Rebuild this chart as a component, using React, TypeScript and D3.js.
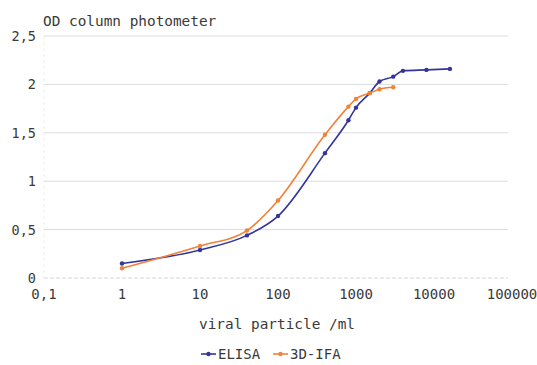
import React from "react";
import * as d3 from "d3";

const elisaX = [1, 10, 40, 100, 400, 800, 1000, 1500, 2000, 3000, 4000, 8000, 16000];
const elisaY = [0.15, 0.29, 0.44, 0.64, 1.29, 1.63, 1.76, 1.91, 2.03, 2.08, 2.14, 2.15, 2.16];
const ifaX = [1, 10, 40, 100, 400, 800, 1000, 1500, 2000, 3000];
const ifaY = [0.1, 0.33, 0.49, 0.8, 1.48, 1.77, 1.85, 1.91, 1.95, 1.97];
const xTicks = [0.1, 1, 10, 100, 1000, 10000, 100000];
const xTickLabels = ["0,1", "1", "10", "100", "1000", "10000", "100000"];
const yTicks = [0, 0.5, 1, 1.5, 2, 2.5];
const yTickLabels = ["0", "0,5", "1", "1,5", "2", "2,5"];
const seriesNames = ["ELISA", "3D-IFA"];
const colors = ["#34359a", "#f0823a"];

export default function App() {
  const W = 537, H = 365;
  const x = d3.scaleLog().domain([0.1, 100000]).range([44, 512]);
  const y = d3.scaleLinear().domain([0, 2.5]).range([278, 36]);
  const font = "'DejaVu Sans Mono', monospace";
  const line = d3.line<[number, number]>().x(d => x(d[0])).y(d => y(d[1])).curve(d3.curveMonotoneX);
  const series = [
    elisaX.map((v, i) => [v, elisaY[i]] as [number, number]),
    ifaX.map((v, i) => [v, ifaY[i]] as [number, number]),
  ];
  const txt = "#3a3a3a";
  return (
    <svg width={W} height={H} style={{ position: "absolute", left: 0, top: 0, background: "#fff" }}>
      <rect width={W} height={H} fill="#fff" />
      {yTicks.map((t, i) => (
        <g key={"y" + i}>
          <line x1={44} x2={508} y1={y(t)} y2={y(t)} stroke={t === 0 ? "#cfd4e0" : "#dcdcdc"} strokeWidth={1} strokeDasharray={t === 0 ? "4 2" : undefined} />
          <text x={36} y={y(t) + 5} textAnchor="end" fontFamily={font} fontSize={13.5} fill={txt}>{yTickLabels[i]}</text>
        </g>
      ))}
      <line x1={44} x2={44} y1={36} y2={278} stroke="#ececec" strokeDasharray="3 3" />
      {xTicks.map((t, i) => (
        <text key={"x" + i} x={x(t)} y={299} textAnchor="middle" fontFamily={font} fontSize={14} fill={txt}>{xTickLabels[i]}</text>
      ))}
      <text x={43} y={26} fontFamily={font} fontSize={14.4} fill={txt}>OD column photometer</text>
      <text x={277} y={329} textAnchor="middle" fontFamily={font} fontSize={14.4} fill={txt}>viral particle /ml</text>
      {series.map((s, si) => (
        <g key={"s" + si}>
          <path d={line(s) || ""} fill="none" stroke={colors[si]} strokeWidth={1.6} />
          {s.map((d, i) => (
            <circle key={i} cx={x(d[0])} cy={y(d[1])} r={2.2} fill={colors[si]} />
          ))}
        </g>
      ))}
      <g>
        <line x1={201} x2={216} y1={354} y2={354} stroke={colors[0]} strokeWidth={1.6} />
        <circle cx={208.5} cy={354} r={2.2} fill={colors[0]} />
        <text x={218} y={359} fontFamily={font} fontSize={14} fill={txt}>{seriesNames[0]}</text>
        <line x1={273} x2={288} y1={354} y2={354} stroke={colors[1]} strokeWidth={1.6} />
        <circle cx={280.5} cy={354} r={2.2} fill={colors[1]} />
        <text x={290} y={359} fontFamily={font} fontSize={14} fill={txt}>{seriesNames[1]}</text>
      </g>
    </svg>
  );
}
